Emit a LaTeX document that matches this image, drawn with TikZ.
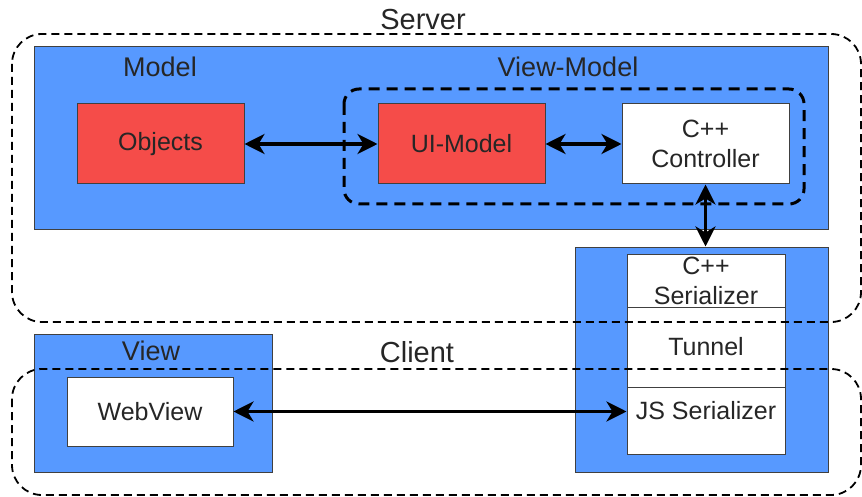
\documentclass[tikz,border=0pt]{standalone}
\usepackage{fontspec}
\setmainfont{Liberation Sans}
\usetikzlibrary{arrows.meta}
\definecolor{layerblue}{RGB}{87,153,255}
\definecolor{modelred}{RGB}{245,76,73}

\begin{document}
\begin{tikzpicture}[x=1pt,y=-1pt,
  layer/.style={draw=black!75,fill=layerblue,line width=1pt,inner sep=0pt},
  part/.style={draw=black!75,fill=white,line width=1pt,inner sep=0pt,align=center,
    text=black!85,font=\fontsize{25}{30}\selectfont},
  redpart/.style={part,fill=modelred},
  zone/.style={draw=black,line width=1.8pt,dash pattern=on 8pt off 5pt,rounded corners=30pt},
  vmzone/.style={draw=black,line width=3pt,dash pattern=on 11pt off 7pt,rounded corners=15pt},
  zonetitle/.style={anchor=base,text=black!85,font=\fontsize{29}{32}\selectfont},
  layertitle/.style={anchor=base,text=black!85,font=\fontsize{27}{30}\selectfont},
  link/.style={{Stealth[length=20pt,width=20pt,inset=6pt]}-{Stealth[length=20pt,width=20pt,inset=6pt]},line width=3.6pt}]
  \useasboundingbox (0,0) rectangle (862,497);
  %% blue layers
  \node[layer,minimum width=794pt,minimum height=183pt] (srvlayer) at (431,138.5) {};
  \node[layer,minimum width=238pt,minimum height=138pt] (viewlayer) at (153,403) {};
  \node[layer,minimum width=253pt,minimum height=225pt] (bridge) at (701.5,359.5) {};
  \node[layertitle] (modeltitle) at (160,77) {Model};
  \node[layertitle] (vmtitle) at (568,77) {View-Model};
  \node[layertitle] (viewtitle) at (151,360) {View};
  %% parts
  \node[redpart,minimum width=167pt,minimum height=80pt] (objects) at (160.5,144) {Objects};
  \node[redpart,minimum width=167pt,minimum height=80pt] (uimodel) at (461.5,144) {UI-Model};
  \node[part,minimum width=167pt,minimum height=80pt] (ctrl) at (705.5,144) {C++\\Controller};
  \node[part,minimum width=158pt,minimum height=53pt] (cppser) at (706,280.5) {C++\\Serializer};
  \node[part,minimum width=158pt,minimum height=80pt] (tunnel) at (706,347) {Tunnel};
  \node[part,minimum width=158pt,minimum height=67pt] (jsser) at (706,420.5) {};
  \node[text=black!85,font=\fontsize{25}{30}\selectfont] (jslabel) at (706,411) {JS Serializer};
  \node[part,minimum width=166pt,minimum height=69pt] (webview) at (150,411.5) {WebView};
  %% connectors
  \draw[link] (objects.east) -- (uimodel.west);
  \draw[link] (uimodel.east) -- (ctrl.west);
  \draw[link] (ctrl.south) -- (ctrl.south |- bridge.north);
  \draw[link] (webview.east) -- (webview.east -| jsser.west);
  %% dashed zones
  \draw[vmzone] (344,89) rectangle (804,204);
  \draw[zone] (12,34) rectangle (861,322);
  \draw[zone] (12,369) rectangle (861,495);
  \node[zonetitle] (servertitle) at (423,30) {Server};
  \node[zonetitle] (clienttitle) at (417,362) {Client};
\end{tikzpicture}
\end{document}
